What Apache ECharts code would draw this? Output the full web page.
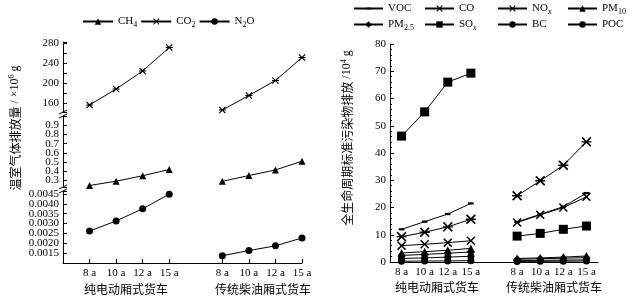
<!DOCTYPE html>
<html>
<head>
<meta charset="utf-8">
<script src="https://cdn.jsdelivr.net/npm/echarts@6/dist/echarts.min.js"></script>
<style>
  html, body { margin: 0; padding: 0; background: #fff; }
  #chart { width: 632px; height: 303px; }
</style>
</head>
<body>
<div id="chart"></div>
<script>
// 车龄与车型
const ages = ['8 a', '10 a', '12 a', '15 a'];
const groups = ['纯电动厢式货车', '传统柴油厢式货车'];

// 温室气体排放量 (×10^6 g)
const co2Ev = [156, 188, 224, 271];
const co2Diesel = [146, 175, 205, 251];
const ch4Ev = [0.246, 0.293, 0.352, 0.42];
const ch4Diesel = [0.292, 0.354, 0.415, 0.51];
const n2oEv = [0.00262, 0.00313, 0.00375, 0.00449];
const n2oDiesel = [0.00137, 0.00163, 0.00187, 0.00227];

// 全生命周期标准污染物排放 (10^4 g)
const vocEv = [12.0, 14.8, 17.6, 21.5];
const vocDiesel = [14.7, 17.5, 20.3, 25.3];
const coEv = [6.0, 6.5, 7.1, 7.8];
const coDiesel = [14.5, 17.3, 20.0, 23.9];
const noxEv = [9.3, 10.9, 12.9, 15.7];
const noxDiesel = [24.3, 29.8, 35.5, 44.1];
const pm10Ev = [3.3, 3.8, 4.3, 5.0];
const pm10Diesel = [1.3, 1.5, 1.8, 2.2];
const pm25Ev = [2.4, 2.8, 3.2, 3.7];
const pm25Diesel = [1.0, 1.2, 1.4, 1.6];
const soxEv = [46.2, 55.1, 66.0, 69.3];
const soxDiesel = [9.5, 10.5, 12.0, 13.2];
const bcEv = [1.3, 1.5, 1.8, 2.1];
const bcDiesel = [0.5, 0.6, 0.7, 0.8];
const pocEv = [0.3, 0.35, 0.4, 0.5];
const pocDiesel = [0.2, 0.25, 0.3, 0.35];

const font = "'Liberation Serif', 'Noto Sans CJK SC', serif";
const cjk = "'Noto Sans CJK SC', sans-serif";

// 左图留一个空位在开头和中间，右图只在中间留空
const leftCats = [''].concat(ages, [''], ages);
const rightCats = ages.concat([''], ages);
const leftData = (e, d) => ['-'].concat(e, ['-'], d);
const rightData = (e, d) => e.concat(['-'], d);

const cross = 'path://M0,1.2L1.2,0L5,3.8L8.8,0L10,1.2L6.2,5L10,8.8L8.8,10L5,6.2L1.2,10L0,8.8L3.8,5Z';
const star = cross + 'M0,4.3L10,4.3L10,5.7L0,5.7Z';
// 小横条，两个 M 点把包围盒撑成正方形
const dash = 'path://M0,0M10,10M1.5,3.6L8.5,3.6L8.5,6.4L1.5,6.4Z';

const names = {
  'CH4': '{n|CH}{s|4}', 'CO2': '{n|CO}{s|2}', 'N2O': '{n|N}{s|2}{n|O}',
  'VOC': '{n|VOC}', 'CO': '{n|CO}', 'NOx': '{n|NO}{si|x}', 'PM10': '{n|PM}{s|10}',
  'PM2.5': '{n|PM}{s|2.5}', 'SOx': '{n|SO}{si|x}', 'BC': '{n|BC}', 'POC': '{n|POC}'
};
const legendRich = {
  n: { fontSize: 11, fontFamily: font, color: '#000' },
  s: { fontSize: 8, fontFamily: font, color: '#000', padding: [6, 0, 0, 0] },
  si: { fontSize: 8, fontFamily: font, fontStyle: 'italic', color: '#000', padding: [6, 0, 0, 0] }
};

// 右图图例按 4 列排
const rightLegend = [
  ['VOC', 353, 3], ['CO', 424, 3], ['NOx', 497, 3], ['PM10', 567, 3],
  ['PM2.5', 353, 19], ['SOx', 424, 19], ['BC', 497, 19], ['POC', 567, 19]
];

const black = '#000';
const tickStyle = { show: true, inside: true, length: 4, lineStyle: { color: black } };
const lineAxis = { show: true, lineStyle: { color: black, width: 1 } };
const yLabel = { fontSize: 11, color: black, fontFamily: font, margin: 4 };

function hiddenX(grid) {
  return { gridIndex: grid, type: 'category', data: leftCats, boundaryGap: false, show: false };
}

function mkLine(name, x, y, data, symbol, size) {
  return {
    name: name, type: 'line', xAxisIndex: x, yAxisIndex: y, data: data,
    symbol: symbol, symbolSize: size, symbolKeepAspect: true,
    lineStyle: { color: black, width: 1 }, itemStyle: { color: black },
    connectNulls: false, z: 3
  };
}

const chart = echarts.init(document.getElementById('chart'));

const option = {
  animation: false,
  textStyle: { fontFamily: font },
  legend: [
    {
      left: 82, top: 16, padding: 0, itemWidth: 30, itemHeight: 8, itemGap: 3,
      data: ['CH4', 'CO2', 'N2O'],
      formatter: n => names[n],
      textStyle: { width: 22, rich: legendRich }
    }
  ].concat(rightLegend.map(l => ({
    left: l[1], top: l[2], padding: 0, itemWidth: 29, itemHeight: 8,
    data: [l[0]],
    formatter: n => names[n],
    textStyle: { rich: legendRich }
  }))),
  grid: [
    { left: 63, right: 330, top: 42, height: 70, outerBoundsMode: 'none' },
    { left: 63, right: 330, top: 116, height: 71, outerBoundsMode: 'none' },
    { left: 63, right: 330, top: 191, height: 72, outerBoundsMode: 'none' },
    { left: 390, right: 34, top: 44, height: 218, outerBoundsMode: 'none' }
  ],
  xAxis: [
    hiddenX(0),
    hiddenX(1),
    {
      gridIndex: 2, type: 'category', data: leftCats, boundaryGap: false,
      axisLine: lineAxis,
      axisTick: Object.assign({}, tickStyle, { interval: (i, v) => v !== '' }),
      axisLabel: { interval: 0, fontSize: 11, color: black, fontFamily: font, margin: 5 }
    },
    {
      gridIndex: 3, type: 'category', data: rightCats, boundaryGap: true,
      axisLine: lineAxis,
      axisTick: Object.assign({}, tickStyle, { alignWithLabel: true, interval: (i, v) => v !== '' }),
      axisLabel: { interval: 0, fontSize: 11, color: black, fontFamily: font, margin: 5 }
    }
  ],
  yAxis: [
    {
      gridIndex: 0, type: 'value', min: 142, max: 282, splitNumber: 7,
      axisLine: lineAxis, axisTick: tickStyle, splitLine: { show: false },
      axisLabel: Object.assign({}, yLabel, { formatter: v => (v >= 160 && v % 40 === 0) ? String(v) : '' })
    },
    {
      gridIndex: 1, type: 'value', min: 0.23, max: 1.0, splitNumber: 7,
      axisLine: lineAxis, axisTick: tickStyle, splitLine: { show: false },
      axisLabel: Object.assign({}, yLabel, {
        formatter: v => {
          const r = Math.round(v * 10) / 10;
          return (Math.abs(v - r) < 1e-6 && r >= 0.3 && r <= 0.9) ? r.toFixed(1) : '';
        }
      })
    },
    {
      gridIndex: 2, type: 'value', min: 0.001, max: 0.00465, splitNumber: 7,
      axisLine: lineAxis, axisTick: tickStyle, splitLine: { show: false },
      axisLabel: Object.assign({}, yLabel, {
        formatter: v => {
          const r = Math.round(v * 2000) / 2000;
          return (Math.abs(v - r) < 1e-9 && r <= 0.0045 + 1e-9) ? r.toFixed(4) : '';
        }
      })
    },
    {
      gridIndex: 3, type: 'value', min: 0, max: 80, interval: 10,
      axisLine: lineAxis, axisTick: tickStyle, splitLine: { show: false },
      minorTick: { show: true, splitNumber: 5, length: 2, lineStyle: { color: black } },
      axisLabel: yLabel
    }
  ],
  series: [
    mkLine('CO2', 0, 0, leftData(co2Ev, co2Diesel), star, 7),
    mkLine('CH4', 1, 1, leftData(ch4Ev, ch4Diesel), 'triangle', 7),
    mkLine('N2O', 2, 2, leftData(n2oEv, n2oDiesel), 'circle', 7),
    mkLine('VOC', 3, 3, rightData(vocEv, vocDiesel), dash, 8),
    mkLine('CO', 3, 3, rightData(coEv, coDiesel), cross, 9),
    mkLine('NOx', 3, 3, rightData(noxEv, noxDiesel), star, 10),
    mkLine('PM10', 3, 3, rightData(pm10Ev, pm10Diesel), 'triangle', 8),
    mkLine('PM2.5', 3, 3, rightData(pm25Ev, pm25Diesel), 'diamond', 8),
    mkLine('SOx', 3, 3, rightData(soxEv, soxDiesel), 'rect', 9),
    mkLine('BC', 3, 3, rightData(bcEv, bcDiesel), 'circle', 7),
    mkLine('POC', 3, 3, rightData(pocEv, pocDiesel), 'circle', 7)
  ],
  graphic: [
    // 断轴标记
    ...[112, 187].flatMap(y => [
      { type: 'line', shape: { x1: 59, y1: y + 2, x2: 67, y2: y - 2 }, style: { stroke: black, lineWidth: 1 } },
      { type: 'line', shape: { x1: 59, y1: y + 6, x2: 67, y2: y + 2 }, style: { stroke: black, lineWidth: 1 } }
    ]),
    {
      type: 'text', x: 15, y: 128, rotation: Math.PI / 2,
      style: {
        text: '{c|温室气体排放量}{t| / ×10}{p|6}{t| g}',
        align: 'center', verticalAlign: 'middle',
        rich: {
          c: { fontSize: 12, fontFamily: cjk, fill: black },
          t: { fontSize: 12, fontFamily: font, fill: black },
          p: { fontSize: 8, fontFamily: font, fill: black, padding: [0, 0, 7, 0] }
        }
      }
    },
    {
      type: 'text', x: 347, y: 138, rotation: Math.PI / 2,
      style: {
        text: '{c|全生命周期标准污染物排放}{t| /10}{p|4}{t| g}',
        align: 'center', verticalAlign: 'middle',
        rich: {
          c: { fontSize: 12, fontFamily: cjk, fill: black },
          t: { fontSize: 12, fontFamily: font, fill: black },
          p: { fontSize: 8, fontFamily: font, fill: black, padding: [0, 0, 7, 0] }
        }
      }
    },
    ...[[126, 289, 0], [263, 289, 1], [437, 287, 0], [554, 287, 1]].map(p => ({
      type: 'text', x: p[0], y: p[1],
      style: { text: groups[p[2]], fontSize: 12, fontFamily: cjk, fill: black, align: 'center', verticalAlign: 'middle' }
    }))
  ]
};

chart.setOption(option);
window.addEventListener('resize', () => chart.resize());
</script>
</body>
</html>
